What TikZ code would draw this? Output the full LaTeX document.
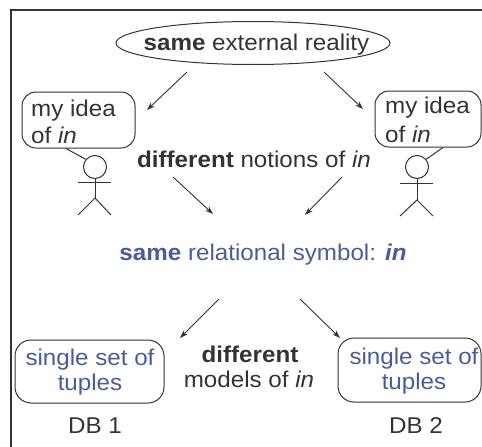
\documentclass[tikz,border=0pt]{standalone}
\usepackage{fontspec}
\setmainfont{Liberation Sans}[FakeStretch=1.06]
\usetikzlibrary{shapes.geometric,arrows.meta,calc}
\definecolor{ink}{HTML}{333333}
\definecolor{blu}{HTML}{4A5C9A}
\begin{document}
\begin{tikzpicture}[x=1pt,y=-1pt,
  font=\fontsize{22.8}{26}\selectfont,
  txt/.style={inner sep=0pt, anchor=base, text=ink},
  btxt/.style={inner sep=0pt, anchor=base, text=blu},
  bubble/.style={draw=ink, line width=1pt, rounded corners=14pt, inner sep=0pt},
  tbox/.style={draw=ink, line width=1pt, rounded corners=16pt, inner sep=0pt},
  arr/.style={draw=ink, line width=0.9pt, -{Stealth[length=8pt,width=5.5pt]}},
  fig/.style={draw=ink, line width=1pt}]
\useasboundingbox (0,0) rectangle (482,447);
\clip (0,0) rectangle (482,447);
\draw[draw=ink, line width=1.6pt] (11,10) rectangle (520,480);

% top ellipse
\node[ellipse, draw=ink, line width=1pt, minimum width=274pt, minimum height=43pt, inner sep=0pt] (ell) at (253,43) {};
\node[txt] (ellT) at (256.5,50.7) {\textbf{same} external reality};

% bubbles
\node[bubble, minimum width=113pt, minimum height=56pt] (bubL) at (78.5,120) {};
\node[txt, anchor=base west] (bubL1) at (31,116) {my idea};
\node[txt, anchor=base west] (bubL2) at (31,143) {of \textit{in}};
\node[bubble, minimum width=106pt, minimum height=56pt] (bubR) at (428,119) {};
\node[txt, anchor=base west] (bubR1) at (385,113.5) {my idea};
\node[txt, anchor=base west] (bubR2) at (385,142) {of \textit{in}};

% stick figures
\node[circle, draw=ink, line width=1pt, minimum size=23pt, inner sep=0pt] (headL) at (95,167) {};
\coordinate (hipL) at (95,198);
\draw[fig] (headL.south) -- (hipL);
\draw[fig] (78,182) -- (111,182);
\draw[fig] (78,215) -- (hipL) -- (111,215);
\draw[fig] ($(bubL.south west)!0.39!(bubL.south east)$) -- (headL.140);

\node[circle, draw=ink, line width=1pt, minimum size=23pt, inner sep=0pt] (headR) at (417,167) {};
\coordinate (hipR) at (417,200);
\draw[fig] (headR.south) -- (hipR);
\draw[fig] (400,183) -- (433,183);
\draw[fig] (400,216) -- (hipR) -- (433,216);
\draw[fig] ($(bubR.south west)!0.64!(bubR.south east)$) -- (headR.40);

% middle texts
\node[txt] (notions) at (254,167) {\textbf{different} notions of \textit{in}};
\node[btxt] (sym) at (263,260) {\textbf{same} relational symbol: \textbf{\textit{in}}};

% arrows
\coordinate (a1s) at (187,72);  \coordinate (a1e) at (147,110);
\coordinate (a2s) at (324,72);  \coordinate (a2e) at (363,109);
\coordinate (a3s) at (173,177); \coordinate (a3e) at (213,214);
\coordinate (a4s) at (342,177); \coordinate (a4e) at (305,215);
\coordinate (a5s) at (219,299); \coordinate (a5e) at (180,338);
\coordinate (a6s) at (300,299); \coordinate (a6e) at (340,338);
\draw[arr] (a1s) -- (a1e);
\draw[arr] (a2s) -- (a2e);
\draw[arr] (a3s) -- (a3e);
\draw[arr] (a4s) -- (a4e);
\draw[arr] (a5s) -- (a5e);
\draw[arr] (a6s) -- (a6e);

% bottom boxes
\node[tbox, minimum width=149pt, minimum height=63pt] (boxL) at (89.5,371.5) {};
\node[btxt] (boxL1) at (90,365) {single set of};
\node[btxt] (boxL2) at (90,390) {tuples};
\node[tbox, minimum width=143pt, minimum height=64pt] (boxR) at (409.5,370) {};
\node[btxt] (boxR1) at (414,364) {single set of};
\node[btxt] (boxR2) at (414,389) {tuples};

\node[txt] (diff2) at (250,362) {\textbf{different}};
\node[txt] (models) at (249,387) {models of \textit{in}};

\node[txt] (db1) at (95,433) {DB 1};
\node[txt] (db2) at (416,433) {DB 2};
\end{tikzpicture}
\end{document}
